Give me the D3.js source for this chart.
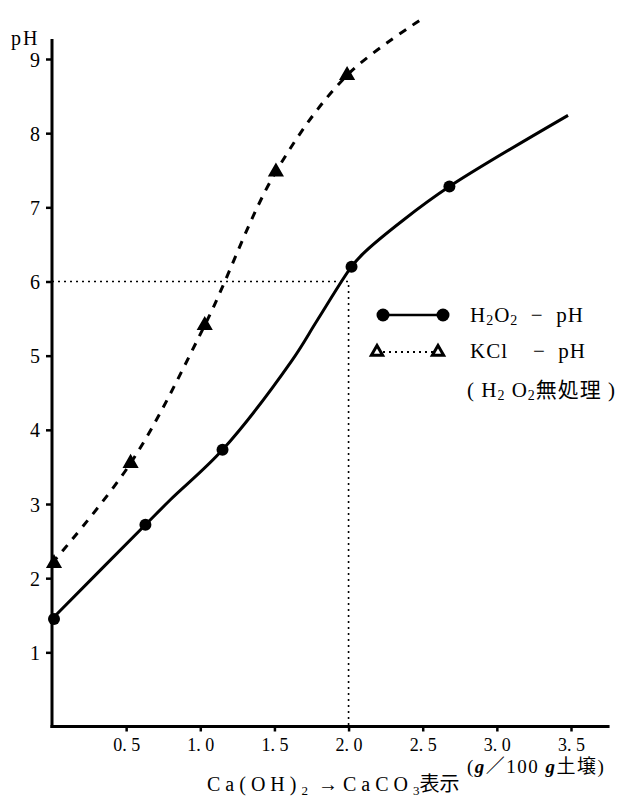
<!DOCTYPE html>
<html>
<head>
<meta charset="utf-8">
<script src="https://cdn.jsdelivr.net/npm/d3@7"></script>
<style>
  body { margin: 0; background: #fff; }
  svg { display: block; }
  svg text { font-family: "DejaVu Serif", "Liberation Serif", "Noto Sans CJK JP", serif; fill: #000; }
</style>
</head>
<body>
<svg id="chart"></svg>
<script>
const width = 626;
const height = 801;
const serif = "'Liberation Serif', 'DejaVu Serif', 'Noto Sans CJK JP', serif";

// tick values / labels
const xTicks = [0.5, 1.0, 1.5, 2.0, 2.5, 3.0, 3.5];
const xTickLabels = ["0. 5", "1. 0", "1. 5", "2. 0", "2. 5", "3. 0", "3. 5"];
const yTicks = [1, 2, 3, 4, 5, 6, 7, 8, 9];

// H2O2-pH : measured points
const h2o2X = [0, 0.63, 1.15, 2.02, 2.68];
const h2o2Y = [1.45, 2.72, 3.73, 6.2, 7.28];
// H2O2-pH : curve as traced
const h2o2CurveX = [0, 0.63, 0.8, 1.15, 1.62, 1.79, 2.02, 2.1, 2.37, 2.68, 3.48];
const h2o2CurveY = [1.45, 2.72, 3.06, 3.73, 4.94, 5.48, 6.2, 6.38, 6.83, 7.28, 8.24];

// KCl-pH : measured points
const kclX = [0, 0.53, 1.03, 1.51, 1.99];
const kclY = [2.2, 3.55, 5.41, 7.48, 8.78];
// KCl-pH : curve as traced
const kclCurveX = [0, 0.53, 1.03, 1.51, 1.99, 2.48];
const kclCurveY = [2.2, 3.55, 5.41, 7.48, 8.78, 9.52];

// reference lines (pH 6 -> 2.0 g)
const refX = 2.0;
const refY = 6.0;

const svg = d3.select("#chart").attr("width", width).attr("height", height);

const x = d3.scaleLinear().domain([0, 3.5]).range([52, 571]);
const y = d3.scaleLinear().domain([0, 9]).range([726.5, 59]);

const zip = (xs, ys) => xs.map((v, i) => [v, ys[i]]);

const txt = (sel, size) => sel.style("font-family", serif).style("font-size", size + "px");

// reference dotted lines
svg.append("path")
    .attr("d", `M${x(0)},${y(refY)}H${x(refX)}V${y(0)}`)
    .attr("fill", "none")
    .attr("stroke", "#000")
    .attr("stroke-width", 1.6)
    .attr("stroke-dasharray", "2,4");

// axes
const yAxis = svg.append("g")
    .attr("transform", `translate(${x(0)},0)`)
    .call(d3.axisLeft(y).tickValues(yTicks).tickSize(6).tickPadding(6).tickFormat(d3.format("d")));
yAxis.select(".domain").remove();
yAxis.selectAll(".tick line").attr("stroke-width", 2.5);
yAxis.selectAll(".tick text").call(txt, 20).attr("dy", "0.35em");

const xAxis = svg.append("g")
    .attr("transform", `translate(0,${y(0)})`)
    .call(d3.axisBottom(x).tickValues(xTicks).tickSize(5).tickPadding(6)
        .tickFormat((d, i) => xTickLabels[i]));
xAxis.select(".domain").remove();
xAxis.selectAll(".tick line").attr("stroke-width", 2.5);
xAxis.selectAll(".tick text").call(txt, 18).attr("dy", "0.75em")
    .attr("xml:space", "preserve");

svg.append("line")
    .attr("x1", x(0)).attr("x2", x(0))
    .attr("y1", y(0) + 1.5).attr("y2", y(9.27))
    .attr("stroke", "#000").attr("stroke-width", 3);
svg.append("line")
    .attr("x1", x(0) - 1.5).attr("x2", x(3.76))
    .attr("y1", y(0)).attr("y2", y(0))
    .attr("stroke", "#000").attr("stroke-width", 3);

// axis titles
svg.append("text")
    .attr("x", 11).attr("y", 45)
    .call(txt, 20)
    .attr("letter-spacing", 2)
    .text("pH");

const xt = svg.append("text")
    .attr("x", 207).attr("y", 791)
    .call(txt, 20)
    .attr("xml:space", "preserve");
xt.append("tspan").attr("letter-spacing", 5).text("Ca(OH)");
xt.append("tspan").style("font-size", "13px").attr("dy", 4).text("2");
xt.append("tspan").attr("dy", -4).attr("letter-spacing", 5).text(" →CaCO");
xt.append("tspan").style("font-size", "13px").attr("dy", 4).text("3");
xt.append("tspan").attr("dy", -4).text("表示");

const ut = svg.append("text")
    .attr("x", 467).attr("y", 773)
    .call(txt, 19)
    .attr("letter-spacing", 1.5);
ut.append("tspan").text("(");
ut.append("tspan").attr("font-style", "italic").attr("font-weight", "bold").text("g");
ut.append("tspan").text("／100 ");
ut.append("tspan").attr("font-style", "italic").attr("font-weight", "bold").text("g");
ut.append("tspan").text("土壌)");

// lines
const line = d3.line()
    .x((d) => x(d[0]))
    .y((d) => y(d[1]))
    .curve(d3.curveCatmullRom.alpha(0.5));

svg.append("path")
    .datum(zip(kclCurveX, kclCurveY))
    .attr("d", line)
    .attr("fill", "none")
    .attr("stroke", "#000")
    .attr("stroke-width", 3)
    .attr("stroke-dasharray", "8,8");

svg.append("path")
    .datum(zip(h2o2CurveX, h2o2CurveY))
    .attr("d", line)
    .attr("fill", "none")
    .attr("stroke", "#000")
    .attr("stroke-width", 3);

// markers
const tri = d3.symbol().type(d3.symbolTriangle).size(70);

svg.append("g")
    .selectAll("circle")
    .data(zip(h2o2X, h2o2Y))
    .join("circle")
    .attr("cx", (d) => x(d[0]) + (d[0] === 0 ? 2 : 0))
    .attr("cy", (d) => y(d[1]))
    .attr("r", 6)
    .attr("fill", "#000");

svg.append("g")
    .selectAll("path")
    .data(zip(kclX, kclY))
    .join("path")
    .attr("d", tri)
    .attr("transform", (d) => `translate(${x(d[0]) + (d[0] === 0 ? 2 : 0)},${y(d[1])})`)
    .attr("fill", "#000")
    .attr("stroke", "#000")
    .attr("stroke-width", 2);

// legend
const lg = svg.append("g").attr("transform", "translate(383,315)");
lg.append("line").attr("x1", 0).attr("x2", 60).attr("y1", 0).attr("y2", 0)
    .attr("stroke", "#000").attr("stroke-width", 2.5);
lg.selectAll("circle").data([0, 60]).join("circle")
    .attr("cx", (d) => d).attr("cy", 0).attr("r", 6.5).attr("fill", "#000");
lg.append("line").attr("x1", -6).attr("x2", 55).attr("y1", 37).attr("y2", 37)
    .attr("stroke", "#000").attr("stroke-width", 2).attr("stroke-dasharray", "2,4");
lg.selectAll("path.lt").data([-6, 55]).join("path")
    .attr("class", "lt")
    .attr("d", d3.symbol().type(d3.symbolTriangle).size(55))
    .attr("transform", (d) => `translate(${d},37)`)
    .attr("fill", "#fff")
    .attr("stroke", "#000")
    .attr("stroke-width", 3);

const t1 = lg.append("text").attr("x", 87).attr("y", 7).call(txt, 21)
    .attr("xml:space", "preserve").attr("letter-spacing", 1);
t1.append("tspan").text("H");
t1.append("tspan").style("font-size", "14px").attr("dy", 3).text("2");
t1.append("tspan").attr("dy", -3).text("O");
t1.append("tspan").style("font-size", "14px").attr("dy", 3).text("2");
t1.append("tspan").attr("dy", -3).text("  −  pH");

lg.append("text").attr("x", 87).attr("y", 43).call(txt, 21)
    .attr("xml:space", "preserve").attr("letter-spacing", 1)
    .text("KCl    −  pH");

const t3 = lg.append("text").attr("x", 84).attr("y", 82).call(txt, 21)
    .attr("xml:space", "preserve").attr("letter-spacing", 1);
t3.append("tspan").text("( H");
t3.append("tspan").style("font-size", "14px").attr("dy", 3).text("2");
t3.append("tspan").attr("dy", -3).text(" O");
t3.append("tspan").style("font-size", "14px").attr("dy", 3).text("2");
t3.append("tspan").attr("dy", -3).text("無処理 )");
</script>
</body>
</html>
